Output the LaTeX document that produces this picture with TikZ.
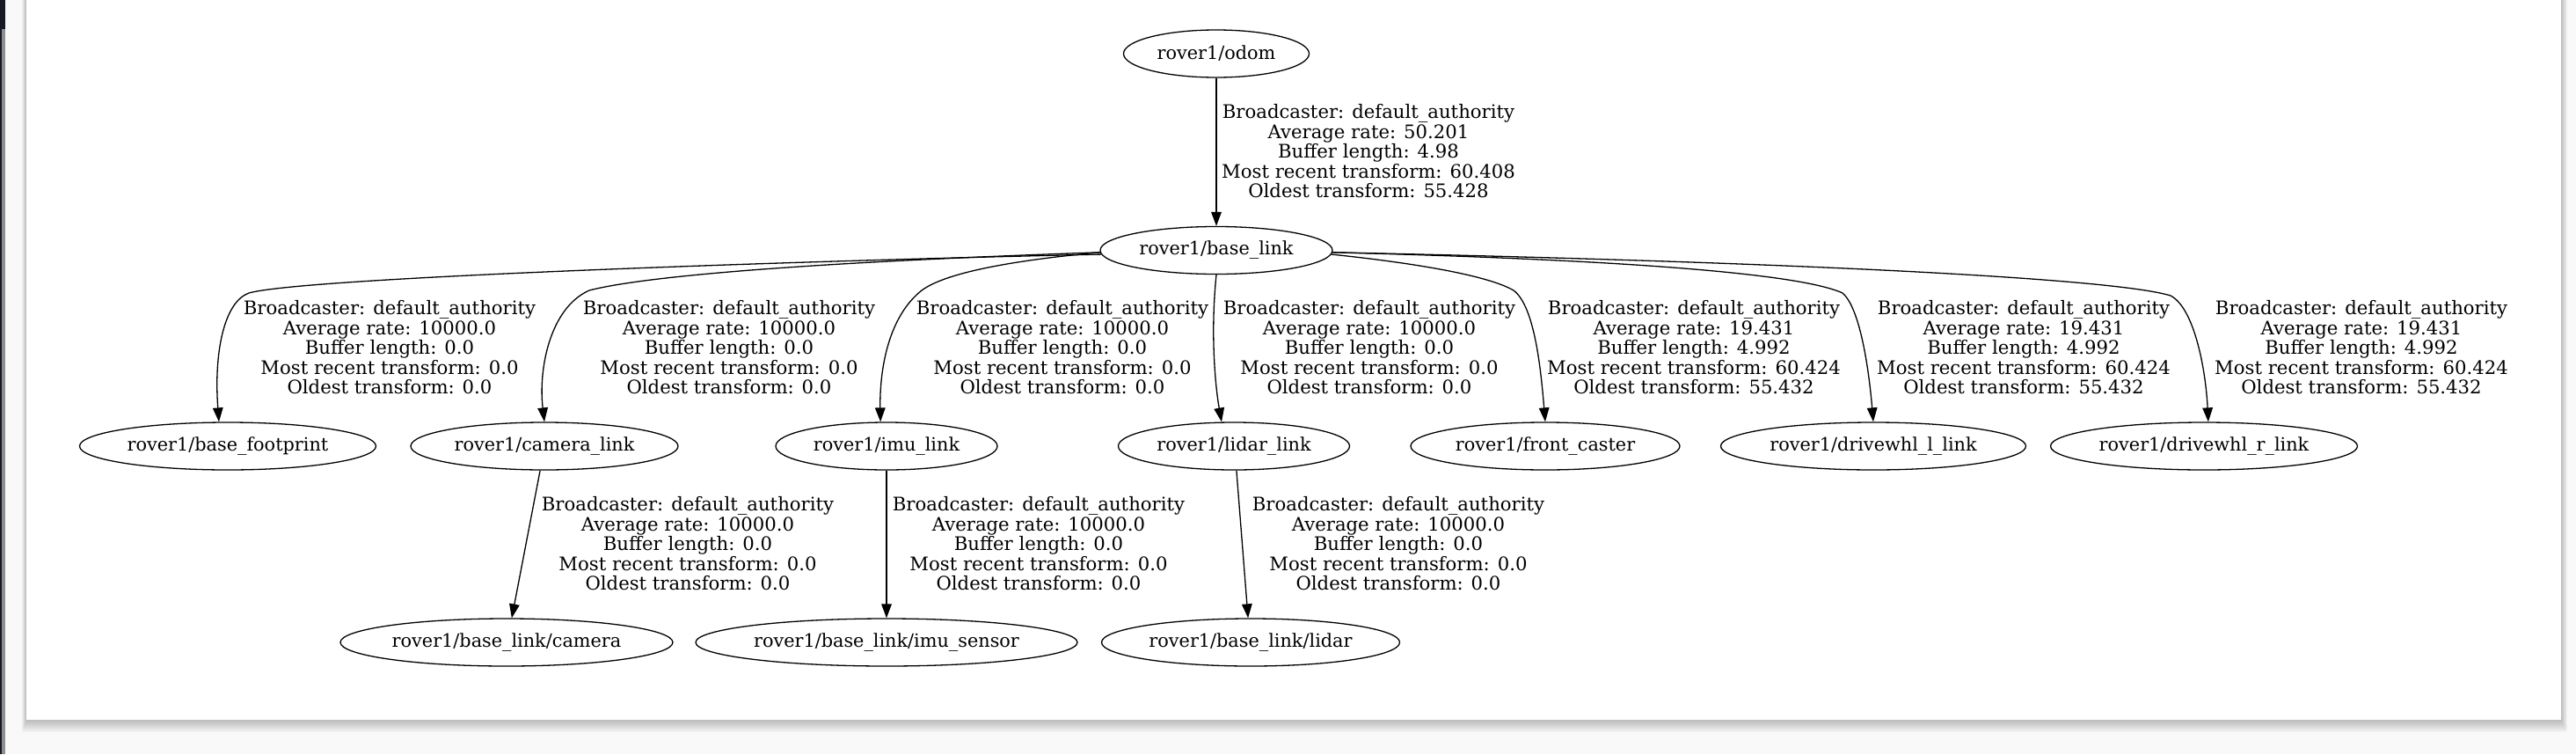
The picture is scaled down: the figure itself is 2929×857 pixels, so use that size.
\documentclass[tikz,border=0pt]{standalone}
\usepackage{fontspec}
\setmainfont{DejaVu Serif}
\usetikzlibrary{arrows.meta,shapes.geometric}
\newcommand\tffont{\fontsize{10.4}{11.25}\selectfont}
\newcommand\infofont{\fontsize{10.6}{11.25}\selectfont}
\definecolor{bgpage}{HTML}{F9F9F9}
\definecolor{barnavy}{HTML}{161A24}
\definecolor{bargray}{HTML}{8E8E93}

\begin{document}
\begin{tikzpicture}[x=0.5pt, y=-0.5pt,
    frame/.style={draw, ellipse, line width=0.65pt, minimum height=27pt,
                  inner sep=0pt, font=\tffont},
    info/.style={align=center, inner sep=0pt, font=\infofont},
    link/.style={-{Triangle[length=8pt, width=5.8pt]}, line width=0.65pt},
]
\def\tf#1#2#3#4{Broadcaster: default\_authority\\Average rate: #1\\
    Buffer length: #2\\Most recent transform: #3\\Oldest transform: #4}
\def\yB{507}  % second row of frames
\def\yC{730}  % third row of frames
\def\yLB{395} % labels above second row
\def\yLC{618} % labels above third row

% screenshot background, side bar and page shadow
\fill[bgpage] (0,0) rectangle (2929,857);
\fill[barnavy] (0,0) rectangle (6,33);
\fill[barnavy] (0,33) rectangle (2,857);
\fill[bargray] (2,33) rectangle (6,857);
\foreach \i in {1,...,7}{
    \fill[black, opacity=0.035] (30-\i*0.7,0) rectangle (2912+\i,818+2*\i);
}
\fill[white] (30,0) rectangle (2912,818);

% frames
\node[frame, minimum width=105.5pt] (odom) at (1383,61) {rover1/odom};
\node[frame, minimum width=132pt] (blink) at (1383,284.5) {rover1/base\_link};

\node[frame, minimum width=168.5pt] (foot) at (259,\yB) {rover1/base\_footprint};
\node[frame, minimum width=152pt] (camlink) at (619,\yB) {rover1/camera\_link};
\node[frame, minimum width=126pt] (imulink) at (1008,\yB) {rover1/imu\_link};
\node[frame, minimum width=131.5pt] (lidlink) at (1403,\yB) {rover1/lidar\_link};
\node[frame, minimum width=153pt] (caster) at (1757,\yB) {rover1/front\_caster};
\node[frame, minimum width=173.5pt] (whll) at (2130,\yB) {rover1/drivewhl\_l\_link};
\node[frame, minimum width=174.5pt] (whlr) at (2506,\yB) {rover1/drivewhl\_r\_link};

\node[frame, minimum width=189pt] (cam) at (576,\yC) {rover1/base\_link/camera};
\node[frame, minimum width=217pt] (imu) at (1008,\yC) {rover1/base\_link/imu\_sensor};
\node[frame, minimum width=169.5pt] (lidar) at (1422,\yC) {rover1/base\_link/lidar};

% transform labels
\node[info] (l0) at (1556,172) {\tf{50.201}{4.98}{60.408}{55.428}};
\node[info] (l1) at (443,\yLB) {\tf{10000.0}{0.0}{0.0}{0.0}};
\node[info] (l2) at (829,\yLB) {\tf{10000.0}{0.0}{0.0}{0.0}};
\node[info] (l3) at (1208,\yLB) {\tf{10000.0}{0.0}{0.0}{0.0}};
\node[info] (l4) at (1557,\yLB) {\tf{10000.0}{0.0}{0.0}{0.0}};
\node[info] (l5) at (1926,\yLB) {\tf{19.431}{4.992}{60.424}{55.432}};
\node[info] (l6) at (2301,\yLB) {\tf{19.431}{4.992}{60.424}{55.432}};
\node[info] (l7) at (2685,\yLB) {\tf{19.431}{4.992}{60.424}{55.432}};
\node[info] (l8) at (782,\yLC) {\tf{10000.0}{0.0}{0.0}{0.0}};
\node[info] (l9) at (1181,\yLC) {\tf{10000.0}{0.0}{0.0}{0.0}};
\node[info] (l10) at (1590,\yLC) {\tf{10000.0}{0.0}{0.0}{0.0}};

% edges
\draw[link] (odom) -- (blink);
\draw[link] (blink.182) .. controls (1000,294) and (350,314) .. (283,333)
    .. controls (255,343) and (243,400) .. (foot.110);
\draw[link] (blink.181) .. controls (950,297) and (740,312) .. (670,330)
    .. controls (625,350) and (612,420) .. (camlink.north);
\draw[link] (blink.181) .. controls (1150,296) and (1075,310) .. (1048,330)
    .. controls (1010,360) and (1000,420) .. (imulink.104);
\draw[link] (blink.south) .. controls (1376,380) and (1382,440) .. (lidlink.117);
\draw[link] (blink.-2) .. controls (1600,298) and (1690,312) .. (1721,330)
    .. controls (1745,348) and (1752,420) .. (caster.north);
\draw[link] (blink.-1) .. controls (1800,294) and (2040,308) .. (2095,333)
    .. controls (2115,350) and (2125,420) .. (whll.north);
\draw[link] (blink.-1) .. controls (2000,297) and (2400,315) .. (2468,336)
    .. controls (2495,350) and (2508,420) .. (whlr.80);

\draw[link] (camlink.260) -- (cam.78);
\draw[link] (imulink.south) -- (imu.north);
\draw[link] (lidlink.276) -- (lidar.96);

\useasboundingbox (0,0) rectangle (2929,857);
\end{tikzpicture}
\end{document}
